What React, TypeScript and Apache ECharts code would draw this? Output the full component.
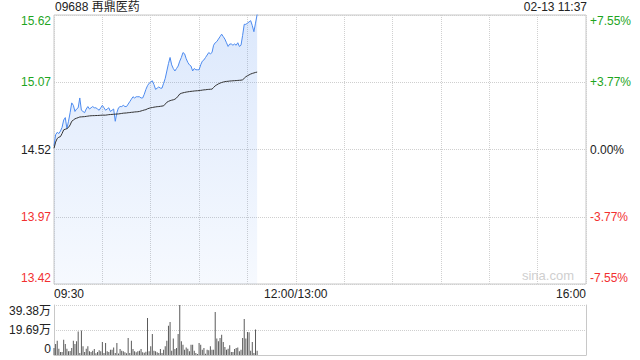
import React, { useEffect, useRef } from "react";
import * as echarts from "echarts";

const stockTitle = "09688 再鼎医药";
const stampText = "02-13 11:37";
const prevClose = 14.52;
const maxPct = 7.55;

const leftTickLabels = ["13.42", "13.97", "14.52", "15.07", "15.62"];
const rightTickLabels = ["-7.55%", "-3.77%", "0.00%", "+3.77%", "+7.55%"];
const volTickLabels = ["0", "19.69万", "39.38万"];
const volMax = 39.38;
const timeTickPos = [0, 150, 330];
const timeTickLabels = ["09:30", "12:00/13:00", "16:00"];

const prices = [
  14.55, 14.64, 14.66, 14.65, 14.67, 14.70, 14.76, 14.78, 14.69, 14.75,
  14.82, 14.90, 14.88, 14.83, 14.85, 14.86, 14.94, 14.84, 14.83, 14.82,
  14.85, 14.87, 14.85, 14.86, 14.87, 14.86, 14.86, 14.85, 14.84, 14.86,
  14.88, 14.86, 14.84, 14.85, 14.86, 14.83, 14.84, 14.85, 14.75, 14.82,
  14.86, 14.87, 14.87, 14.88, 14.87, 14.87, 14.89, 14.91, 14.93, 14.95,
  14.94, 14.95, 14.95, 14.95, 14.94, 14.94, 14.97, 15.01, 15.04, 15.06,
  15.07, 15.08, 15.05, 15.01, 15.02, 15.03, 15.02, 15.02, 15.06, 15.10,
  15.16, 15.22, 15.27, 15.21, 15.18, 15.16, 15.18, 15.20, 15.24, 15.27,
  15.31, 15.30, 15.26, 15.23, 15.21, 15.20, 15.16, 15.18, 15.17, 15.17,
  15.17, 15.21, 15.24, 15.25, 15.27, 15.29, 15.31, 15.30, 15.31, 15.37,
  15.39, 15.40, 15.42, 15.44, 15.46, 15.44, 15.42, 15.39, 15.36, 15.38,
  15.38, 15.37, 15.38, 15.37, 15.39, 15.36, 15.37, 15.45, 15.54, 15.54,
  15.55, 15.56, 15.57, 15.53, 15.48, 15.55, 15.62,
];

const avgPrices = [
  14.53, 14.58, 14.61, 14.62, 14.625, 14.65, 14.68, 14.685, 14.69, 14.70,
  14.72, 14.75, 14.76, 14.77, 14.775, 14.78, 14.785, 14.786, 14.787, 14.788,
  14.79, 14.792, 14.794, 14.795, 14.796, 14.796, 14.797, 14.797, 14.798, 14.799,
  14.80, 14.80, 14.80, 14.802, 14.804, 14.805, 14.806, 14.807, 14.808, 14.809,
  14.81, 14.812, 14.814, 14.816, 14.817, 14.818, 14.82, 14.821, 14.823, 14.824,
  14.826, 14.827, 14.828, 14.83, 14.834, 14.838, 14.842, 14.845, 14.852, 14.856,
  14.86, 14.862, 14.865, 14.867, 14.869, 14.87, 14.872, 14.874, 14.876, 14.89,
  14.905, 14.912, 14.918, 14.922, 14.925, 14.93, 14.94, 14.955, 14.972, 14.978,
  14.982, 14.985, 14.988, 14.99, 14.992, 14.994, 14.995, 14.997, 14.998, 14.999,
  15.0, 15.002, 15.004, 15.006, 15.007, 15.009, 15.01, 15.011, 15.012, 15.025,
  15.039, 15.047, 15.055, 15.061, 15.066, 15.07, 15.073, 15.075, 15.076, 15.078,
  15.079, 15.08, 15.081, 15.082, 15.083, 15.084, 15.085, 15.088, 15.10, 15.113,
  15.121, 15.128, 15.135, 15.14, 15.144, 15.148, 15.151,
];

// volume in 万 shares
const volumes = [
  5.5, 8.7, 11.3, 5.0, 2.4, 2.4, 12.1, 8.7, 5.0, 2.9,
  3.2, 5.5, 11.3, 8.7, 10.8, 18.6, 1.6, 19.2, 6.8, 2.4,
  5.0, 6.8, 2.9, 2.4, 3.4, 4.7, 1.3, 2.4, 3.7, 2.9,
  10.2, 1.6, 9.5, 2.9, 2.4, 4.2, 4.2, 6.0, 1.5, 9.5,
  1.1, 4.7, 3.4, 2.9, 2.1, 1.4, 13.4, 1.6, 11.3, 4.7,
  2.9, 2.1, 2.9, 3.4, 4.7, 2.1, 1.8, 2.5, 29.1, 2.9,
  6.8, 16.5, 3.4, 2.9,
  2.1, 1.6, 4.7, 1.6, 4.2, 6.8, 11.3, 23.1, 26.0, 3.4,
  12.9, 4.7, 5.5, 16.5, 39.38, 10.8, 8.1, 4.2, 6.0, 5.0,
  2.9, 8.1, 8.1, 3.4, 1.6, 0.8, 9.5, 8.1, 4.2, 5.5,
  1.0, 4.2, 3.7, 6.8, 4.2, 4.2, 33.9, 12.9, 10.8, 13.4,
  16.0, 10.2, 6.3, 4.2, 5.0, 7.6, 2.4, 2.4, 4.7, 5.5,
  6.0, 2.9, 4.2, 13.4, 28.4, 12.9, 18.1, 17.9, 3.4, 10.2,
  1.6, 20.0, 3.4,
];

const FONT = 'Arial, "Liberation Sans", "Noto Sans CJK SC", sans-serif';
const GREEN = "#1ea51e";
const RED = "#f23030";
const BLACK = "#222";

const toPct = (p: number) => (p / prevClose - 1) * 100;
const pctIdx = (v: number) => Math.round((v + maxPct) / (maxPct / 2));
const pctColor = (v: any) => {
  const n = Number(v);
  return n > 0.01 ? GREEN : n < -0.01 ? RED : BLACK;
};

export default function App() {
  const ref = useRef<HTMLDivElement>(null);
  useEffect(() => {
    if (!ref.current) return;
    const chart = echarts.init(ref.current, null, { renderer: "svg" });
    const L = 54;
    const R = 54;
    const option: any = {
      animation: false,
      textStyle: { fontFamily: FONT },
      grid: [
        { left: L, right: R, top: 15, height: 269, show: true, borderColor: "#c8c8c8", borderWidth: 1 },
        { left: L, right: R, top: 305, height: 50 },
      ],
      xAxis: [
        {
          type: "value",
          gridIndex: 0,
          min: 0,
          max: 330,
          interval: 30,
          axisLine: { show: false, onZero: false },
          axisTick: { show: false },
          splitLine: { show: true, lineStyle: { color: "#d0d0d0", type: "dotted", width: 1 } },
          axisLabel: {
            show: true,
            margin: 4,
            fontSize: 12,
            color: BLACK,
            fontFamily: FONT,
            alignMinLabel: "left",
            alignMaxLabel: "right",
            formatter: (v: number) => {
              const k = timeTickPos.indexOf(Math.round(v));
              return k >= 0 ? timeTickLabels[k] : "";
            },
          },
        },
        {
          type: "value",
          gridIndex: 1,
          min: 0,
          max: 330,
          interval: 30,
          axisLine: { show: true, onZero: false, lineStyle: { color: "#c8c8c8", width: 1 } },
          axisTick: { show: false },
          axisLabel: { show: false },
          splitLine: { show: false },
        },
      ],
      yAxis: [
        {
          type: "value",
          gridIndex: 0,
          position: "left",
          min: -maxPct,
          max: maxPct,
          interval: maxPct / 2,
          axisLine: { show: false, onZero: false },
          axisTick: { show: false },
          splitLine: { show: true, lineStyle: { color: "#cfcfcf", type: "dotted", width: 1 } },
          axisLabel: {
            margin: 3,
            fontSize: 12,
            fontFamily: FONT,
            verticalAlignMaxLabel: "top",
            verticalAlignMinLabel: "bottom",
            color: pctColor,
            formatter: (v: number) => leftTickLabels[pctIdx(v)] ?? "",
          },
        },
        {
          type: "value",
          gridIndex: 0,
          position: "right",
          min: -maxPct,
          max: maxPct,
          interval: maxPct / 2,
          axisLine: { show: false, onZero: false },
          axisTick: { show: false },
          splitLine: { show: false },
          axisLabel: {
            margin: 4,
            fontSize: 12,
            fontFamily: FONT,
            verticalAlignMaxLabel: "top",
            verticalAlignMinLabel: "bottom",
            color: pctColor,
            formatter: (v: number) => rightTickLabels[pctIdx(v)] ?? "",
          },
        },
        {
          type: "value",
          gridIndex: 1,
          position: "left",
          min: 0,
          max: volMax,
          interval: volMax / 2,
          axisLine: { show: true, onZero: false, lineStyle: { color: "#c8c8c8", width: 1 } },
          axisTick: { show: false },
          splitLine: { show: true, lineStyle: { color: "#cfcfcf", type: "dotted", width: 1 } },
          axisLabel: {
            margin: 3,
            fontSize: 12,
            color: BLACK,
            fontFamily: FONT,
            verticalAlignMaxLabel: "top",
            verticalAlignMinLabel: "bottom",
            formatter: (v: number) => volTickLabels[Math.round(v / (volMax / 2))] ?? "",
          },
        },
        {
          type: "value",
          gridIndex: 1,
          position: "right",
          min: 0,
          max: volMax,
          interval: volMax / 2,
          axisLine: { show: true, onZero: false, lineStyle: { color: "#c8c8c8", width: 1 } },
          axisTick: { show: false },
          splitLine: { show: false },
          axisLabel: { show: false },
        },
      ],
      graphic: [
        {
          type: "text",
          left: 55,
          top: 1,
          style: { text: stockTitle, fontSize: 12, fill: BLACK, fontFamily: FONT },
        },
        {
          type: "text",
          right: 53,
          top: 1,
          style: { text: stampText, fontSize: 12, fill: BLACK, fontFamily: FONT },
        },
        {
          type: "text",
          right: 66,
          top: 269,
          z: 1,
          style: { text: "sina.com", fontSize: 13, fill: "#cfcfcf", fontFamily: FONT },
        },
      ],
      series: [
        {
          type: "line",
          xAxisIndex: 0,
          yAxisIndex: 0,
          data: prices.map((p, i) => [i, toPct(p)]),
          showSymbol: false,
          symbol: "none",
          clip: false,
          lineStyle: { color: "#4d8bf0", width: 1 },
          areaStyle: {
            origin: "start",
            color: new echarts.graphic.LinearGradient(0, 0, 0, 1, [
              { offset: 0, color: "rgba(77,139,240,0.28)" },
              { offset: 1, color: "rgba(77,139,240,0.07)" },
            ]),
          },
          z: 3,
        },
        {
          type: "line",
          xAxisIndex: 0,
          yAxisIndex: 0,
          data: avgPrices.map((p, i) => [i, toPct(p)]),
          showSymbol: false,
          symbol: "none",
          lineStyle: { color: "#333", width: 1 },
          z: 4,
        },
        {
          type: "bar",
          xAxisIndex: 1,
          yAxisIndex: 2,
          data: volumes.map((v, i) => [i, v]),
          barWidth: 1,
          itemStyle: { color: "#5a5a5a" },
        },
      ],
    };
    chart.setOption(option);
    return () => chart.dispose();
  }, []);
  return (
    <div
      ref={ref}
      style={{ position: "fixed", left: 0, top: 0, width: 640, height: 360, background: "#fff" }}
    />
  );
}
